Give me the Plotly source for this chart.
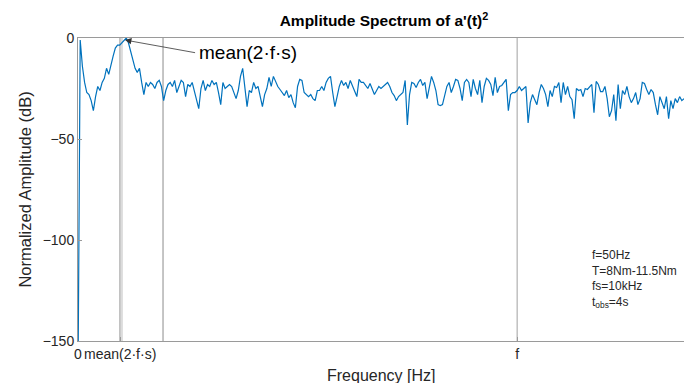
import plotly.graph_objects as go

# Spectrum sampled at 0.25 Hz (t_obs = 4 s)
df = 0.25
amp_db = [
    -170, -1, -14, -22, -27, -28, -31, -36, -29, -24,
    -26, -22, -20, -15, -18, -13, -9, -5, -3.5, -3.5,
    -2.5, -1, 0, -2.5, -7, -11, -15, -17, -15, -22,
    -28, -22, -24, -22, -23, -25, -22, -21, -24, -31,
    -26, -23, -22, -24, -21, -27, -24, -21, -22, -29,
    -23, -24, -22, -26, -30, -35, -25, -21, -26, -23,
    -24, -21, -23, -22, -27, -33, -22, -25, -24, -23,
    -24, -27, -30, -26, -19, -15, -24, -34, -26, -27,
    -22, -25, -24, -30, -34, -28, -25, -19.5, -24, -19,
    -22, -24, -25.5, -27, -28.5, -26, -29.5, -28, -32, -34.5,
    -24, -20.5, -21, -27, -28, -29, -28, -30, -31, -26,
    -26, -24, -26, -22, -20, -19, -27, -34, -29, -24,
    -21, -23.5, -22, -25, -21, -24, -27, -29, -20.5, -22,
    -22, -23.5, -25, -22.5, -25, -28, -26, -24, -25, -24,
    -23, -22, -24, -27, -28.5, -31, -29, -28, -27, -21,
    -43, -28, -22, -22.5, -24.5, -22, -20.5, -23.5, -22, -30,
    -24, -19, -22, -26, -33, -33.5, -33, -28, -24, -22,
    -27, -24, -20.5, -21, -25, -31, -22, -20.5, -22, -29,
    -20.5, -25, -28, -21, -32, -24, -20, -21, -23, -28.5,
    -19.5, -27, -24, -23.5, -22, -20.5, -36, -28, -27, -27,
    -26, -24, -26, -25, -24, -42, -32, -28, -31, -33,
    -27, -23, -25, -28, -34, -26, -29, -24, -24.5, -22,
    -32, -22, -28, -24, -29, -30.5, -40, -25, -26, -25.5,
    -29, -25, -25.5, -24, -23, -37, -21.5, -23, -26.5, -26.5,
    -24, -30, -39, -36, -28, -41, -23, -35, -26, -28,
    -24, -29, -32, -30, -27, -33, -30, -22, -22.5, -25.5,
    -28, -25.5, -27, -33, -38, -29, -32, -35, -29, -40,
    -31, -35, -30, -32, -29, -31, -30,
]
freq_hz = [i * df for i in range(len(amp_db))]

f_line = 50.0            # supply frequency
slip_band = [4.78, 9.68]  # 2*f*s range
mean_2fs = 4.8
x_max = 69.0

tick_vals = [0, mean_2fs, f_line]
tick_text = ["0", "mean(2·f·s)", "f"]
y_ticks = [0, -50, -100, -150]

font = "Liberation Sans, Arial, Helvetica, sans-serif"
ink = "#262626"
axis_gray = "#9a9a9a"

fig = go.Figure()
fig.add_trace(go.Scatter(
    x=freq_hz, y=amp_db, mode="lines",
    line=dict(color="#0072BD", width=1.2),
    showlegend=False, hoverinfo="skip",
))

# Reference lines for the slip band and the supply frequency
for xv, col, w in [(slip_band[0], "#8c8c8c", 1), (5.0, "#dcdcdc", 2),
                   (slip_band[1], "#8c8c8c", 1), (f_line, "#a0a0a0", 1)]:
    fig.add_shape(type="line", x0=xv, x1=xv, y0=0, y1=1,
                  xref="x", yref="paper", layer="below",
                  line=dict(color=col, width=w))

# Arrow pointing to the peak near mean(2*f*s)
fig.add_annotation(x=5.35, y=-1, ax=13.5, ay=-7.4, axref="x", ayref="y",
                   xref="x", yref="y", text="", showarrow=True,
                   arrowhead=2, arrowsize=1.6, arrowwidth=0.8,
                   arrowcolor="#333333")
fig.add_annotation(x=13.6, y=-7.2, xref="x", yref="y", text="mean(2·f·s)",
                   showarrow=False, xanchor="left", yanchor="middle",
                   font=dict(family=font, size=19, color="black"))

# Operating conditions
fig.add_annotation(
    x=0.845, y=0.3135, xref="paper", yref="paper",
    text="f=50Hz<br>T=8Nm-11.5Nm<br>fs=10kHz<br>t<sub>obs</sub>=4s",
    showarrow=False, xanchor="left", yanchor="top", align="left",
    font=dict(family=font, size=12, color=ink),
)

# Axis titles
fig.add_annotation(x=0.5, y=-0.1155, xref="paper", yref="paper",
                   text="Frequency [Hz]", showarrow=False,
                   xanchor="center", yanchor="middle",
                   font=dict(family=font, size=16, color=ink))
fig.add_annotation(x=-0.089, y=0.5, xref="paper", yref="paper",
                   text="Normalized Amplitude (dB)", showarrow=False,
                   textangle=-90, xanchor="center", yanchor="middle",
                   font=dict(family=font, size=16.5, color=ink))

fig.update_layout(
    width=684, height=383,
    margin=dict(l=78, r=0, t=38, b=42),
    paper_bgcolor="white", plot_bgcolor="white",
    font=dict(family=font, color=ink),
    title=dict(text="<b>Amplitude Spectrum of a'(t)<sup>2</sup></b>",
               x=384 / 684, xanchor="center", y=1 - 21 / 383, yanchor="middle",
               yref="container", font=dict(family=font, size=15.5, color="black")),
    xaxis=dict(range=[0, x_max], tickmode="array", tickvals=tick_vals,
               ticktext=tick_text, ticks="inside", ticklen=4, tickangle=0,
               automargin=False,
               tickcolor=axis_gray, showgrid=False, zeroline=False,
               showline=True, linecolor=axis_gray, linewidth=1, mirror=True,
               tickfont=dict(family=font, size=14, color=ink)),
    yaxis=dict(range=[-150, 0], tickmode="array", tickvals=y_ticks,
               ticks="inside", ticklen=4, tickcolor=axis_gray, automargin=False,
               showgrid=False, zeroline=False, showline=True,
               linecolor=axis_gray, linewidth=1,
               tickfont=dict(family=font, size=14, color=ink)),
)

fig.write_html("out.html")
